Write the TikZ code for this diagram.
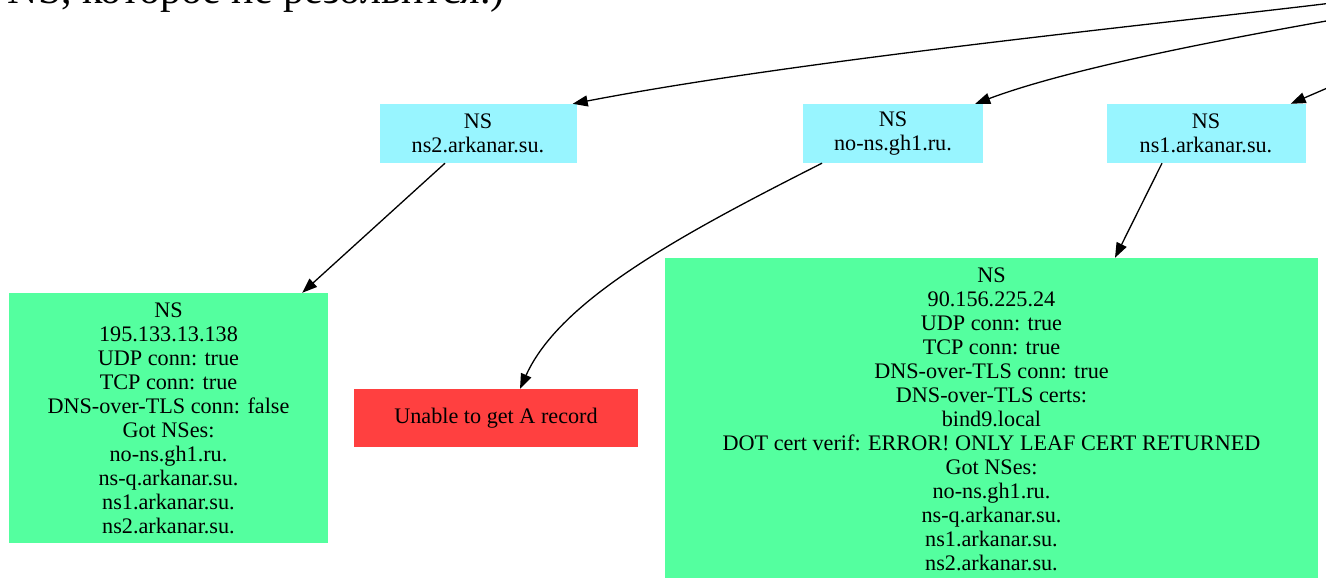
\documentclass[tikz,border=0pt]{standalone}
\usepackage{fontspec}
\setmainfont{Liberation Serif}
\usetikzlibrary{arrows.meta}
\definecolor{nsblue}{HTML}{98F5FF}
\definecolor{nsgreen}{HTML}{54FF9F}
\definecolor{nsred}{HTML}{FF4040}
\tikzset{
  box/.style={rectangle, draw=none, inner sep=0pt, align=center,
    font=\fontsize{22.2}{24}\selectfont},
  query/.style={box, fill=nsblue, minimum height=59pt},
  okbox/.style={box, fill=nsgreen},
  failbox/.style={box, fill=nsred},
  link/.style={line width=1.3pt, -{Triangle[length=15pt,width=11pt]}}
}
\begin{document}
\begin{tikzpicture}[x=1pt,y=-1pt]
\useasboundingbox (0,0) rectangle (1326,578);
\clip (0,0) rectangle (1326,578);

% caption line running above the graph
\node[anchor=base east, inner sep=0pt, font=\fontsize{42}{48}\selectfont] (caption) at (505,4) {NS, которое не резолвится.)};

% name servers being queried
\node[query, minimum width=197pt] (ns2) at (478,133.5) {NS\\ns2.arkanar.su.};
\node[query, minimum width=180pt] (nons) at (893,133.5) {NS\\no-ns.gh1.ru.};
\node[query, minimum width=199pt] (ns1) at (1206,133.5) {NS\\ns1.arkanar.su.};

% results
\node[okbox, minimum width=319pt, minimum height=250pt] (r2) at (168.5,418)
  {NS\\195.133.13.138\\UDP conn: true\\TCP conn: true\\DNS-over-TLS conn: false\\Got NSes:\\no-ns.gh1.ru.\\ns-q.arkanar.su.\\ns1.arkanar.su.\\ns2.arkanar.su.};
\node[failbox, minimum width=284pt, minimum height=58pt] (rfail) at (496,418) {Unable to get A record};
\node[okbox, minimum width=653pt, minimum height=322pt] (r1) at (991.5,419)
  {NS\\90.156.225.24\\UDP conn: true\\TCP conn: true\\DNS-over-TLS conn: true\\DNS-over-TLS certs:\\bind9.local\\DOT cert verif: ERROR! ONLY LEAF CERT RETURNED\\Got NSes:\\no-ns.gh1.ru.\\ns-q.arkanar.su.\\ns1.arkanar.su.\\ns2.arkanar.su.};

% incoming edges from the parent node
\coordinate (p1) at (1332,3);
\coordinate (p2) at (1332,20);
\coordinate (p3) at (1332,86);
\draw[link] (p1) .. controls (1150,25) and (800,60) .. ([xshift=-4pt]ns2.north east);
\draw[link] (p2) .. controls (1190,45) and (1060,72) .. ([xshift=-8pt]nons.north east);
\draw[link] (p3) -- ([xshift=-15pt]ns1.north east);

% edges to results
\draw[link] ([xshift=-33pt]ns2.south) -- ([xshift=-26pt]r2.north east);
\draw[link] ([xshift=-71pt]nons.south) .. controls (680,235) and (560,300) .. ([xshift=24pt]rfail.north);
\draw[link] ([xshift=-44pt]ns1.south) -- ([xshift=123.5pt]r1.north);
\end{tikzpicture}
\end{document}
